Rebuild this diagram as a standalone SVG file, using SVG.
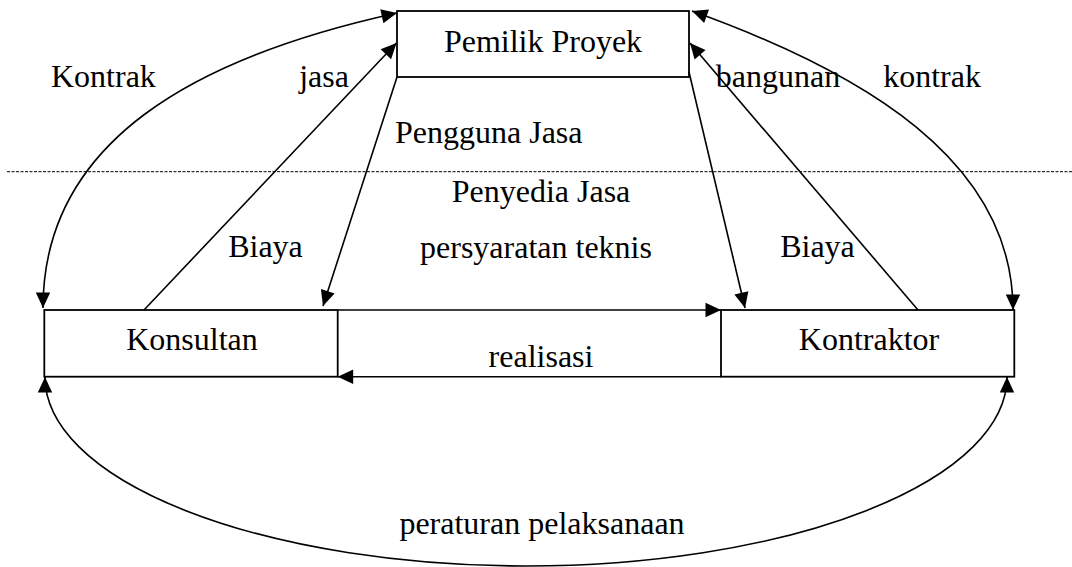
<svg xmlns="http://www.w3.org/2000/svg" width="1072" height="567" viewBox="0 0 1072 567">
<style>
  .box { fill: #ffffff; stroke: #000000; stroke-width: 1.8; }
  .ln { fill: none; stroke: #000000; stroke-width: 1.6; }
  .arr { marker-end: url(#ah); }
  .both { marker-start: url(#ah); marker-end: url(#ah); }
  .sep { stroke: #000000; stroke-width: 1; stroke-dasharray: 3 1.5; }
  text { font-family: "Liberation Serif", "Times New Roman", Tinos, "Noto Serif", serif; font-size: 32px; fill: #000000; }
  .c { text-anchor: middle; }
</style>
<defs>
  <marker id="ah" markerUnits="userSpaceOnUse" viewBox="-17 -9 18 18" refX="0" refY="0" markerWidth="18" markerHeight="18" orient="auto-start-reverse">
    <path d="M0,0 L-15.5,-7.2 L-15.5,7.2 Z" fill="#000000"/>
  </marker>
</defs>
<rect width="1072" height="567" fill="#ffffff"/>

<g id="separator">
  <line class="sep" x1="7" y1="171.7" x2="1072" y2="171.7"/>
  <text x="395" y="143">Pengguna Jasa</text>
  <text class="c" x="541" y="202">Penyedia Jasa</text>
</g>

<g id="pemilik-proyek">
  <rect class="box" x="397" y="11" width="292" height="66"/>
  <text class="c" x="543" y="52">Pemilik Proyek</text>
</g>

<g id="konsultan">
  <rect class="box" x="44.3" y="310" width="293.4" height="66.7"/>
  <text class="c" x="192" y="350">Konsultan</text>
</g>

<g id="kontraktor">
  <rect class="box" x="721" y="310" width="293.3" height="66.7"/>
  <text class="c" x="869" y="350">Kontraktor</text>
</g>

<g id="connectors">
  <path class="ln both" d="M43,308 C43,140 197,57 397,13"/>
  <path class="ln both" d="M692,11 C862,72 1013,160 1013,310"/>
  <path class="ln both" d="M45,377 A481,189 0 0 0 1007,377"/>
  <line class="ln arr" x1="144" y1="310" x2="396.5" y2="43"/>
  <line class="ln arr" x1="918" y1="310" x2="690" y2="43"/>
  <line class="ln arr" x1="397" y1="77" x2="323" y2="306"/>
  <line class="ln arr" x1="689" y1="72" x2="745" y2="308"/>
  <line class="ln arr" x1="337.7" y1="310" x2="721" y2="310"/>
  <line class="ln arr" x1="721" y1="376.7" x2="337.7" y2="376.7"/>
  <text x="51" y="87">Kontrak</text>
  <text class="c" x="324" y="87">jasa</text>
  <text class="c" x="265.5" y="257">Biaya</text>
  <text class="c" x="778" y="87">bangunan</text>
  <text class="c" x="932" y="87">kontrak</text>
  <text class="c" x="817.5" y="257">Biaya</text>
  <text class="c" x="536" y="258">persyaratan teknis</text>
  <text class="c" x="541" y="367">realisasi</text>
  <text class="c" x="542" y="534">peraturan pelaksanaan</text>
</g>
</svg>
